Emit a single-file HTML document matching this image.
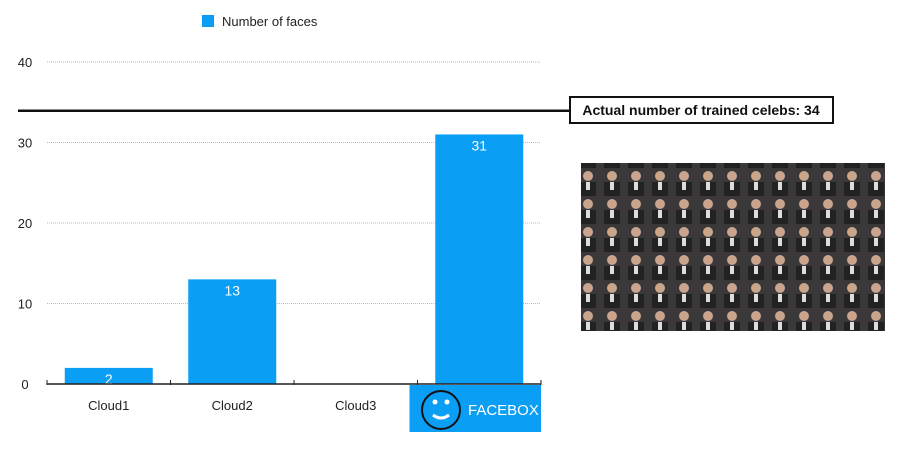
<!DOCTYPE html>
<html><head><meta charset="utf-8"><style>
body{margin:0;width:911px;height:474px;background:#fff;font-family:"Liberation Sans",sans-serif;overflow:hidden;position:relative}
</style></head><body>
<svg width="911" height="474" style="position:absolute;left:0;top:0">
<defs><pattern id="crowd" width="24" height="28" patternUnits="userSpaceOnUse">
<rect width="24" height="28" fill="#3a3838"/><circle cx="12" cy="8" r="5" fill="#c9a58e"/><rect x="4" y="14" width="16" height="14" fill="#222"/><rect x="10" y="14" width="4" height="8" fill="#ddd"/></pattern></defs>
<g id="g"></g>
</svg>
<script>
const categories=["Cloud1","Cloud2","Cloud3","FACEBOX"];
const values=[2,13,null,31];
const ticks=[0,10,20,30,40];
const refValue=34;
const ns="http://www.w3.org/2000/svg";
const g=document.getElementById('g');
const x0=47,x1=541,yB=384,pxPer=8.05;
const bw=(x1-x0)/categories.length;
const y=v=>yB-v*pxPer;
function mk(t,a,txt){const e=document.createElementNS(ns,t);for(const k in a)e.setAttribute(k,a[k]);if(txt!=null)e.textContent=txt;g.appendChild(e);return e;}
ticks.forEach(t=>{
 if(t>0){const l=mk('line',{x1:x0,x2:x1,y1:y(t),y2:y(t),stroke:'#bbb','stroke-dasharray':'1,1'});
 }
 const tx=mk('text',{x:25,y:y(t)+5,'text-anchor':'middle','font-size':13,fill:'#222'},t);
 
});
const lb=mk('rect',{x:x0+3*bw-8,y:385,width:bw+8,height:47,fill:'#0b9ef5'});

categories.forEach((c,i)=>{
 const cx=x0+bw*(i+0.5);
 if(values[i]!=null){
  const r=mk('rect',{x:cx-44,y:y(values[i]),width:88,height:yB-y(values[i]),fill:'#0b9ef5'});
  
  const v=mk('text',{x:cx,y:y(values[i])+16,'text-anchor':'middle','font-size':14,fill:'#fff'},values[i]);
  
 }
 if(i<3){const t=mk('text',{x:cx,y:410,'text-anchor':'middle','font-size':13,fill:'#222'},c);
  }
});
for(let i=0;i<=categories.length;i++){const tk=mk('line',{x1:x0+bw*i,x2:x0+bw*i,y1:yB-4,y2:yB+1,stroke:'#222'});}
const ax=mk('line',{x1:x0,x2:x1,y1:yB,y2:yB,stroke:'#222','stroke-width':1.5});

const sc=441;
mk('circle',{cx:sc,cy:410,r:19,fill:'none',stroke:'#111','stroke-width':2});
mk('circle',{cx:sc-6,cy:402,r:2.5,fill:'#fff'});mk('circle',{cx:sc+6,cy:402,r:2.5,fill:'#fff'});
mk('path',{d:`M${sc-8} 415 Q${sc} 421 ${sc+8} 415`,stroke:'#fff','stroke-width':3,fill:'none'});
const fb=mk('text',{x:468,y:415,'font-size':15,fill:'#fff'},categories[3]);

const rl=mk('line',{x1:18,x2:570,y1:y(refValue)+0.5,y2:y(refValue)+0.5,stroke:'#111','stroke-width':2.5});

const rb=mk('rect',{x:570,y:97,width:263,height:26,fill:'#fff',stroke:'#111','stroke-width':2});

const rt=mk('text',{x:701,y:115,'text-anchor':'middle','font-size':14,'font-weight':'bold',fill:'#111'},'Actual number of trained celebs: '+refValue);

const lg=mk('rect',{x:202,y:15,width:12,height:12,fill:'#0b9ef5'});

const lt=mk('text',{x:222,y:26,'font-size':13,fill:'#222'},'Number of faces');

const ph=mk('rect',{x:581,y:163,width:304,height:168,fill:'url(#crowd)'});

</script>
</body></html>
